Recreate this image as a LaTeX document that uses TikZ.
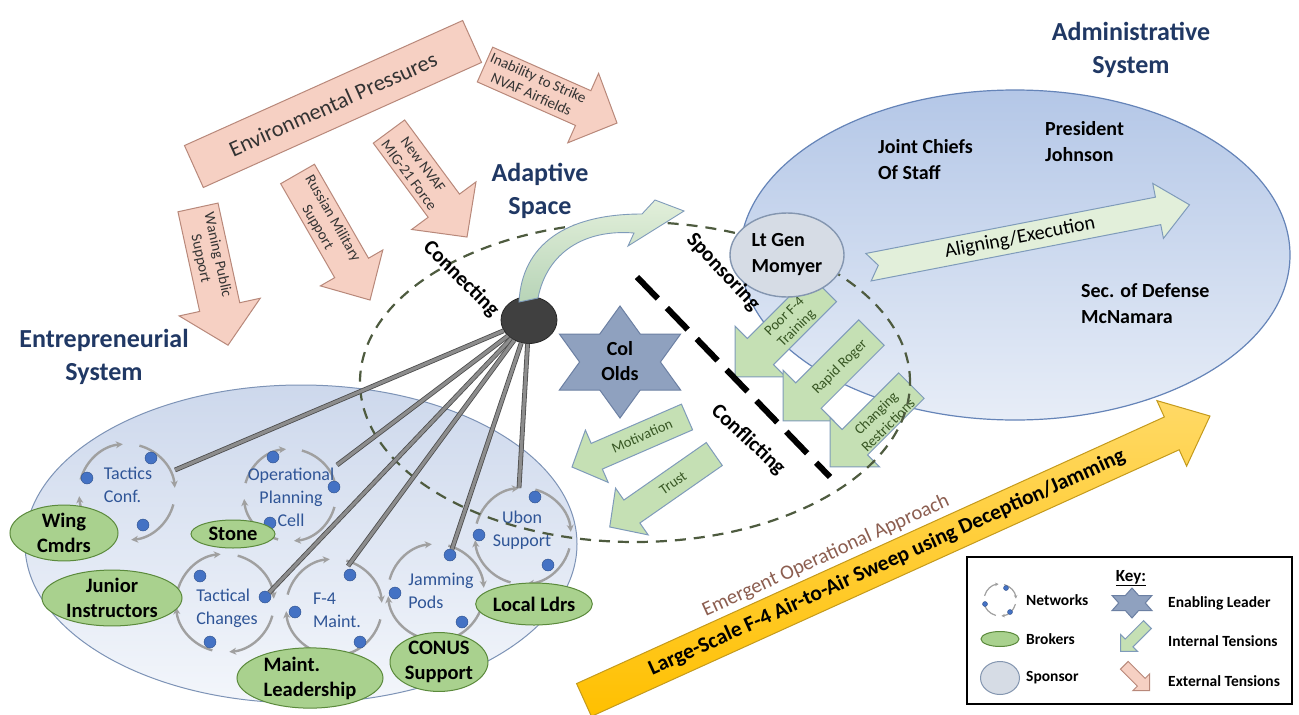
\documentclass[tikz,border=0pt]{standalone}
\usepackage{fontspec}
\setmainfont{Carlito}
\usetikzlibrary{shapes.geometric, arrows.meta, positioning, calc}

\definecolor{navy}{HTML}{203864}
\definecolor{netblue}{HTML}{2F5597}
\definecolor{dotblue}{HTML}{4472C4}
\definecolor{ringgray}{HTML}{A0A0A0}
\definecolor{brokerfill}{HTML}{A9D18E}
\definecolor{brokerline}{HTML}{5B8A3C}
\definecolor{pinkfill}{HTML}{F6D0C3}
\definecolor{pinkline}{HTML}{B8887A}
\definecolor{greenfill}{HTML}{C5E0B4}
\definecolor{greenline}{HTML}{7F9BBA}
\definecolor{greentext}{HTML}{375623}
\definecolor{alignfill}{HTML}{E2EFDA}
\definecolor{admtop}{HTML}{B4C7E7}
\definecolor{admbottom}{HTML}{E7EDF7}
\definecolor{admline}{HTML}{6584B8}
\definecolor{enttop}{HTML}{CDD8EC}
\definecolor{entbottom}{HTML}{F3F6FB}
\definecolor{entline}{HTML}{7D93B6}
\definecolor{sponsorfill}{HTML}{D6DCE5}
\definecolor{sponsorline}{HTML}{8496B0}
\definecolor{leaderfill}{HTML}{8FA1BF}
\definecolor{leaderline}{HTML}{6C80A3}
\definecolor{dashcol}{HTML}{4E5B3F}
\definecolor{sweeptop}{HTML}{FFD966}
\definecolor{sweepbottom}{HTML}{FFC000}
\definecolor{sweepline}{HTML}{C49A1C}
\definecolor{emergent}{HTML}{8C5E50}
\definecolor{hubfill}{HTML}{404040}

% block arrow: style, centre x, centre y, angle, length, body, head width, head length
\newcommand{\blockarrow}[8]{%
  \begin{scope}[shift={(#2,#3)}, rotate=#4]
    \path[#1] ({-(#5)/2},{(#6)/2}) -- ({(#5)/2-(#8)},{(#6)/2}) -- ({(#5)/2-(#8)},{(#7)/2})
      -- ({(#5)/2},0) -- ({(#5)/2-(#8)},{-(#7)/2}) -- ({(#5)/2-(#8)},{-(#6)/2})
      -- ({-(#5)/2},{-(#6)/2}) -- cycle;
  \end{scope}}
% ring of four arrows: name, x, y, radius, arc style
\newcommand{\netring}[5]{%
  \coordinate (#1) at (#2,#3);
  \foreach \b in {165,75,-15,-105}
    \draw[#5] (#1) ++(\b:#4pt) arc[start angle=\b, end angle=\b-70, radius=#4pt];}
% six-pointed star: style, x, y, x radius, y radius
\newcommand{\hexstar}[5]{%
  \pgfmathsetmacro\irx{#4/sqrt(3)}\pgfmathsetmacro\iry{#5/sqrt(3)}
  \begin{scope}[shift={(#2,#3)}]
    \path[#1] (0:\irx pt and \iry pt) \foreach \a in {30,90,...,330}
      { -- (\a:#4pt and #5pt) -- (\a+30:\irx pt and \iry pt)} -- cycle;
  \end{scope}}

\begin{document}
\begin{tikzpicture}[x=1pt, y=-1pt,
  title/.style={font=\bfseries\fontsize{26}{33}\selectfont, text=navy, align=center},
  who/.style={font=\bfseries\fontsize{20}{26}\selectfont, align=left, anchor=west, inner sep=0pt},
  extbox/.style={fill=pinkfill, draw=pinkline, line width=1pt},
  exttext/.style={font=\fontsize{15}{17.5}\selectfont, text=black!80, align=center, inner sep=1pt},
  inttens/.style={fill=greenfill, draw=greenline, line width=1pt},
  inttext/.style={font=\fontsize{14.5}{17}\selectfont, text=greentext, align=center, inner sep=1pt},
  netarc/.style={draw=ringgray, line width=2.4pt, -{Stealth[length=7pt,width=7pt]}},
  keyarc/.style={draw=ringgray, line width=1.2pt, -{Stealth[length=3.5pt,width=3.5pt]}},
  netdot/.style={circle, fill=dotblue, draw=dotblue!70!black, line width=0.4pt, minimum size=12pt, inner sep=0pt},
  netlabel/.style={font=\fontsize{18}{23}\selectfont, text=netblue, align=left, inner sep=0pt},
  broker/.style={ellipse, fill=brokerfill, draw=brokerline, line width=1pt, inner sep=0pt, font=\bfseries\fontsize{20.5}{25}\selectfont, align=center},
  sponsorshape/.style={ellipse, fill=sponsorfill, draw=sponsorline, line width=1.4pt},
  leader/.style={fill=leaderfill, draw=leaderline, line width=1pt},
  spoke/.style={draw=black!70, line width=0.8pt, double=black!45, double distance=3.2pt},
  phase/.style={font=\bfseries\fontsize{21}{24}\selectfont},
  keytext/.style={font=\bfseries\fontsize{15.5}{18}\selectfont, anchor=west, inner sep=0pt}
]
  \fill[white] (0,0) rectangle (1299,715);
  \useasboundingbox (0,0) rectangle (1299,715);

  % systems
  \node[ellipse, minimum width=552pt, minimum height=318pt, top color=enttop, bottom color=entbottom, draw=entline, line width=1pt] (entsys) at (301,544) {};
  \node[ellipse, minimum width=550pt, minimum height=330pt, top color=admtop, bottom color=admbottom, draw=admline, line width=1.2pt] (admsys) at (1015,255) {};
  \node[title] (enttitle) at (104,357) {Entrepreneurial\\System};
  \node[title] (admtitle) at (1131,50) {Administrative\\System};
  \node[title] (adptitle) at (540,191) {Adaptive\\Space};
  \node[who] (jcs) at (878,160) {Joint Chiefs\\Of Staff};
  \node[who] (potus) at (1045,142) {President\\Johnson};
  \node[who] (secdef) at (1081,304) {Sec. of Defense\\McNamara};

  % external tensions
  \node[extbox, rotate=24.2, minimum width=305pt, minimum height=46pt, font=\fontsize{22.5}{25}\selectfont, text=black!80] (envp) at (333,104) {Environmental Pressures};
  \blockarrow{extbox}{213}{276.3}{-77.7}{141}{41}{83}{39}
  \node[exttext, rotate=-77.7] (waning) at (209,257) {Waning Public\\Support};
  \blockarrow{extbox}{333.8}{237}{-60.1}{145.4}{39}{72}{37}
  \node[exttext, rotate=-60.1] (russia) at (325,223) {Russian Military\\Support};
  \blockarrow{extbox}{428}{184.3}{-53.5}{131.2}{39}{80}{39}
  \node[exttext, rotate=-53.5] (nvaf) at (416,170) {New NVAF\\MIG-21 Force};
  \blockarrow{extbox}{551}{93.8}{-23.9}{144.4}{38}{76}{37}
  \node[exttext, rotate=-23.9] (strike) at (535,86) {Inability to Strike\\NVAF Airfields};

  % networks
  \netring{tcnet}{127}{492}{48}{netarc}
  \netring{opnet}{290}{495}{46}{netarc}
  \netring{tchnet}{225}{603}{49}{netarc}
  \netring{f4net}{334}{607}{48}{netarc}
  \netring{jamnet}{436}{592}{48}{netarc}
  \netring{ubnet}{523}{536}{48}{netarc}
  \node[netdot] (tcd1) at (151,458) {};
  \node[netdot] (tcd2) at (87,478) {};
  \node[netdot] (tcd3) at (143,525) {};
  \node[netdot] (opd1) at (273,457) {};
  \node[netdot] (opd2) at (334,487) {};
  \node[netdot] (opd3) at (270,523) {};
  \node[netdot] (tchd1) at (200,576) {};
  \node[netdot] (tchd2) at (265,597) {};
  \node[netdot] (tchd3) at (210,642) {};
  \node[netdot] (f4d1) at (350,575) {};
  \node[netdot] (f4d2) at (295,612) {};
  \node[netdot] (f4d3) at (360,642) {};
  \node[netdot] (jamd1) at (450,555) {};
  \node[netdot] (jamd2) at (395,593) {};
  \node[netdot] (jamd3) at (462,622) {};
  \node[netdot] (ubd1) at (535,497) {};
  \node[netdot] (ubd2) at (479,535) {};
  \node[netdot] (ubd3) at (548,565) {};
  \node[netlabel] (tclab) at (128,485) {Tactics\\Conf.};
  \node[netlabel, align=center] (oplab) at (291,497) {Operational\\Planning\\Cell};
  \node[netlabel] (tchlab) at (227,608) {Tactical\\Changes};
  \node[netlabel] (f4lab) at (337,610) {F-4\\Maint.};
  \node[netlabel] (jamlab) at (441,591) {Jamming\\Pods};
  \node[netlabel, align=center] (ublab) at (522,530) {Ubon\\Support};

  % brokers
  \node[broker, minimum width=108pt, minimum height=50pt] (wing) at (64,533) {Wing\\Cmdrs};
  \node[broker, minimum width=84pt, minimum height=28pt] (stone) at (233,534) {Stone};
  \node[broker, minimum width=140pt, minimum height=52pt] (junior) at (112,598) {Junior\\Instructors};
  \node[broker, minimum width=146pt, minimum height=54pt, align=left] (maint) at (310,678) {Maint.\\Leadership};
  \node[broker, minimum width=98pt, minimum height=52pt] (conus) at (439,662) {CONUS\\Support};
  \node[broker, minimum width=92pt, minimum height=42pt] (local) at (534,604) {Local Ldrs};

  % internal tensions
  \blockarrow{inttens}{629.5}{442}{203.5}{125.4}{28}{57}{27}
  \node[inttext, rotate=23.5] (motiv) at (642,436) {Motivation};
  \blockarrow{inttens}{662}{490.5}{214.9}{127.5}{28}{57}{27}
  \node[inttext, rotate=34.9] (trust) at (673,483) {Trust};
  \blockarrow{inttens}{779.2}{332.8}{225}{125}{37}{72}{36}
  \node[inttext, rotate=45] (poor) at (791,323) {Poor F-4\\Training};
  \blockarrow{inttens}{827.2}{376.8}{225}{125}{36}{72}{36}
  \node[inttext, rotate=45] (rapid) at (840,367) {Rapid Roger};
  \blockarrow{inttens}{870.7}{426.3}{225}{115}{36}{70}{35}
  \node[inttext, rotate=45] (restrict) at (882,419) {Changing\\Restrictions};

  % aligning arrow, notched tail
  \begin{scope}[shift={(1029,236)}, rotate=11]
    \path[fill=alignfill, draw=greenline, line width=1pt] (-163.5,14) -- (131.5,14) -- (131.5,28) -- (163.5,0)
      -- (131.5,-28) -- (131.5,-14) -- (-163.5,-14) -- (-153.5,0) -- cycle;
  \end{scope}
  \node[font=\fontsize{20}{24}\selectfont, rotate=11] (align) at (1020,238) {Aligning/Execution};

  % adaptive space
  \node[ellipse, draw=dashcol, line width=2.2pt, dash pattern=on 11pt off 8pt, minimum width=550pt, minimum height=320pt] (adspace) at (635,382) {};

  % hub and spokes
  \node[ellipse, fill=hubfill, draw=black!85, line width=0.8pt, minimum width=56pt, minimum height=47pt] (hub) at (529,320) {};
  \coordinate (tcend) at (175,470);
  \coordinate (opend) at (337,465);
  \coordinate (f4end) at (348,566);
  \coordinate (ubend) at (519,488);
  \draw[spoke] (hub) -- (tcend);
  \draw[spoke] (hub) -- (opend);
  \draw[spoke] (hub) -- (tchd2);
  \draw[spoke] (hub) -- (f4end);
  \draw[spoke] (hub) -- (jamd1);
  \draw[spoke] (hub) -- (ubend);
  \path[top color=alignfill, bottom color=green!25!gray!45, draw=greenline, line width=0.9pt]
    (519,302) .. controls (522,245) and (565,214) .. (642,214) -- (655,200) -- (684,211) -- (628,246)
    -- (634,233) .. controls (585,229) and (547,252) .. (538,298) -- cycle;

  % sponsor and enabling leader
  \node[sponsorshape, minimum width=114pt, minimum height=84pt, font=\bfseries\fontsize{20}{26}\selectfont, align=left] (momyer) at (787,255) {Lt Gen\\Momyer};
  \hexstar{leader}{620}{362}{70}{56}
  \node[font=\bfseries\fontsize{20}{25}\selectfont, align=center] (olds) at (620,361) {Col\\Olds};

  % sponsoring / conflicting divide
  \coordinate (cfa) at (637,277);
  \coordinate (cfb) at (830,477);
  \draw[line width=6pt, dash pattern=on 30pt off 13pt] (cfa) -- (cfb);
  \node[phase, rotate=-45] (connect) at (461,279) {Connecting};
  \node[phase, rotate=-47] (sponsor) at (723,272) {Sponsoring};
  \node[phase, rotate=-43] (conflict) at (748,440) {Conflicting};

  % emergent approach
  \blockarrow{top color=sweeptop, bottom color=sweepbottom, draw=sweepline, line width=1pt}{897}{558}{24.4}{687.4}{36}{72}{42}
  \node[font=\bfseries\fontsize{21.5}{24}\selectfont, rotate=24.4] (sweep) at (887,563) {Large-Scale F-4 Air-to-Air Sweep using Deception/Jamming};
  \node[font=\fontsize{20.5}{24}\selectfont, text=emergent, rotate=24.4] (emerg) at (826,556) {Emergent Operational Approach};

  % key
  \node[draw=black, line width=2pt, fill=white, minimum width=325pt, minimum height=147pt] (keybox) at (1129.5,630.5) {};
  \node[font=\bfseries\fontsize{17}{20}\selectfont] (keyhead) at (1131,578) {\underline{Key:}};
  \netring{keynet}{1000}{600}{16}{keyarc}
  \node[netdot, minimum size=5pt] (kd1) at (1006,588) {};
  \node[netdot, minimum size=5pt] (kd2) at (985,604) {};
  \node[netdot, minimum size=5pt] (kd3) at (1010,612) {};
  \node[keytext] (knet) at (1026,600) {Networks};
  \node[broker, minimum width=38pt, minimum height=15pt] (kbroker) at (1000,639) {};
  \node[keytext] (kbrk) at (1026,639) {Brokers};
  \node[sponsorshape, line width=1pt, minimum width=39pt, minimum height=33pt] (ksponsor) at (1000,678) {};
  \node[keytext] (kspn) at (1026,678) {Sponsor};
  \hexstar{leader}{1132}{603}{23}{15}
  \node[keytext] (klead) at (1168,603) {Enabling Leader};
  \blockarrow{inttens}{1134}{638}{225}{38}{11}{24}{12}
  \node[keytext] (kint) at (1168,641) {Internal Tensions};
  \blockarrow{extbox}{1137}{678}{-45}{36}{11}{24}{12}
  \node[keytext] (kext) at (1168,681) {External Tensions};
\end{tikzpicture}
\end{document}
